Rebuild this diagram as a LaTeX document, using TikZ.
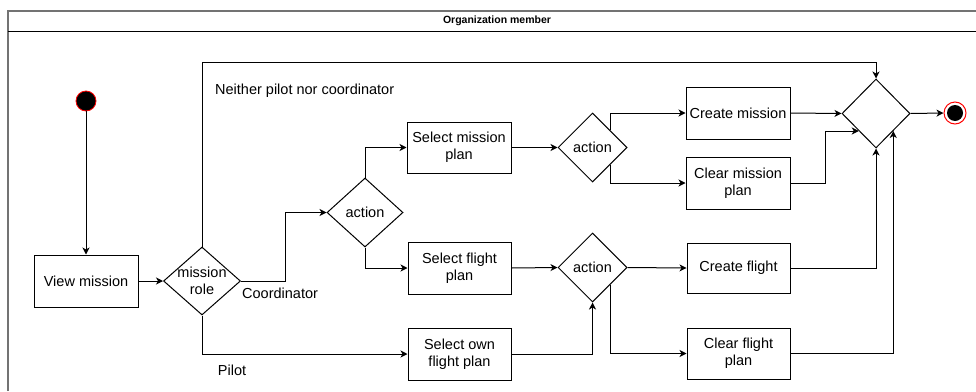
\documentclass[tikz,border=0pt]{standalone}
\usepackage{fontspec}
\setmainfont{Liberation Sans}
\usetikzlibrary{shapes.geometric,arrows.meta,calc}

\tikzset{
  flow/.style={line width=1pt, draw=black},
  arr/.style={flow, -{Stealth[length=7pt,width=7pt,inset=2pt]}},
  actbox/.style={draw=black, line width=1pt, rectangle, inner sep=0pt,
    align=center, font=\fontsize{14.5}{17}\selectfont},
  dia/.style={draw=black, line width=1pt, diamond, inner sep=0pt},
  diatext/.style={align=center, inner sep=0pt, font=\fontsize{14.5}{17}\selectfont},
  lbl/.style={inner sep=0pt, font=\fontsize{14.5}{17}\selectfont},
  frame/.style={draw=black!55, line width=1.5pt},
}

\begin{document}
\begin{tikzpicture}[x=1pt,y=-1pt]
\useasboundingbox (0,0) rectangle (976,391);

% pool frame with header
\draw[frame] (8,391) -- (8,11) -- (976,11);
\draw[line width=1pt] (8,31) -- (976,31);
\node[inner sep=0pt, font=\bfseries\fontsize{10.5}{12}\selectfont] (title) at (497,20.5) {Organization member};

% initial and final states
\node[circle, fill=black, draw=red, line width=0.8pt, minimum size=20pt, inner sep=0pt] (start) at (86,101) {};
\node[circle, draw=red, line width=1pt, fill=white, minimum size=22pt, inner sep=0pt] (stop) at (955,113) {};
\node[circle, fill=black, minimum size=16pt, inner sep=0pt] (stopdot) at (stop.center) {};

% activities
\node[actbox, minimum width=104pt, minimum height=52pt] (view) at (86,281) {View mission};
\node[actbox, minimum width=104pt, minimum height=51pt] (selmp) at (459,147.5) {Select mission\\plan};
\node[actbox, minimum width=103pt, minimum height=52pt] (selfp) at (459.5,268) {Select flight\\plan};
\node[actbox, minimum width=103pt, minimum height=52pt] (selown) at (459.5,354) {Select own\\flight plan};
\node[actbox, minimum width=104pt, minimum height=52pt] (cmis) at (738,113) {Create mission};
\node[actbox, minimum width=104pt, minimum height=52pt] (clmis) at (738,183) {Clear mission\\plan};
\node[actbox, minimum width=103pt, minimum height=50pt] (cfl) at (738.5,268) {Create flight};
\node[actbox, minimum width=103pt, minimum height=51pt] (clfl) at (738.5,353.5) {Clear flight\\plan};

% decisions
\node[dia, minimum width=77pt, minimum height=68pt] (role) at (202,281) {};
\node[diatext] (roletxt) at (202,280.5) {mission\\role};
\node[dia, minimum width=76pt, minimum height=69pt] (act1) at (365,212.5) {};
\node[diatext] (act1txt) at (act1.center) {action};
\node[dia, minimum width=69pt, minimum height=69pt] (act2) at (592.5,147.5) {};
\node[diatext] (act2txt) at (act2.center) {action};
\node[dia, minimum width=69pt, minimum height=69pt] (act3) at (592.5,267.5) {};
\node[diatext] (act3txt) at (act3.center) {action};
\node[dia, minimum width=68pt, minimum height=69pt] (merge) at (876,113.5) {};

% guard labels
\node[lbl, anchor=west] (gneither) at (215,91) {Neither pilot nor coordinator};
\node[lbl, anchor=west] (gcoord) at (242,293) {Coordinator};
\node[lbl] (gpilot) at (232,370) {Pilot};

\coordinate (toprail) at (876,62);

% flows
\draw[arr] (start) -- (view.north);
\draw[arr] (view.east) -- (role.west);
\draw[arr] (role.north) |- (toprail) -- (merge.north);
\draw[arr] (role.east) -- ++(44,0) |- (act1.west);
\draw[arr] (role.south) |- (selown.west);
\draw[arr] (act1.north) |- (selmp.west);
\draw[arr] (act1.south) |- (selfp.west);
\draw[arr] (selmp.east) -- (act2.west);
\draw[arr] ($(act2.north)!0.5!(act2.east)$) |- (cmis.west);
\draw[arr] ($(act2.south)!0.5!(act2.east)$) |- (clmis.west);
\draw[arr] (selfp.east) -- (act3.west);
\draw[arr] (selown.east) -| (act3.south);
\draw[arr] (act3.east) -- (cfl.west);
\draw[arr] ($(act3.south)!0.5!(act3.east)$) |- (clfl.west);
\draw[arr] (cmis.east) -- (merge.west);
\draw[arr] (clmis.east) -- ++(35,0) |- ($(merge.south)!0.5!(merge.west)$);
\draw[arr] (cfl.east) -| (merge.south);
\draw[arr] (clfl.east) -| ($(merge.south)!0.5!(merge.east)$);
\draw[arr] (merge.east) -- (stop.west);
\end{tikzpicture}
\end{document}
